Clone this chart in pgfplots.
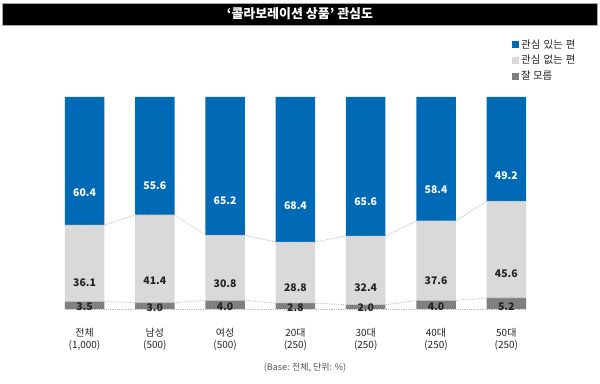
\documentclass[border=0pt]{standalone}
\usepackage{pgfplots}
\pgfplotsset{compat=1.18}
\usepackage{pgfplotstable}
\usepackage{fontspec}
\setmainfont{Noto Sans CJK KR}
\definecolor{cblue}{RGB}{0,106,183}
\definecolor{clight}{RGB}{217,217,217}
\definecolor{cdark}{RGB}{128,128,128}
\definecolor{ctext}{RGB}{35,35,35}
\definecolor{cline}{RGB}{185,185,185}

\pgfplotstableread{
x dk ng pos
0 3.5 36.1 60.4
1 3.0 41.4 55.6
2 4.0 30.8 65.2
3 2.8 28.8 68.4
4 2.0 32.4 65.6
5 4.0 37.6 58.4
6 5.2 45.6 49.2
}\datatable

\pgfplotsset{
  seglabel/.style={
    nodes near coords={\pgfmathprintnumber[fixed,fixed zerofill,precision=1,assume math mode=true]{\pgfplotspointmeta}},
    point meta=\thisrow{#1},
    visualization depends on={\thisrow{#1} \as \rawy},
    every node near coord/.append style={anchor=center, yshift={-\rawy*0.53bp}, font=\fontsize{10.5}{12}\selectfont\bfseries},
  },
}

\begin{document}
\begin{tikzpicture}
\path[use as bounding box] (0,0) rectangle (600bp,384bp);
% title bar
\filldraw[fill=black, draw=gray!70, line width=0.8bp] (2bp,359bp) rectangle (597bp,381bp);
\node[text=white, font=\fontsize{13}{15}\selectfont\bfseries] at (300bp,370bp) {‘콜라보레이션 상품’ 관심도};
% footnote
\node[text=ctext!80, font=\fontsize{9}{11}\selectfont] at (305bp,16bp) {(Base: 전체, 단위: \%)};

\begin{axis}[
  at={(31.8bp,75bp)}, anchor=south west,
  scale only axis, width=527.25bp, height=212bp,
  xmin=-0.75, xmax=6.75, ymin=0, ymax=100,
  ybar stacked, bar width=39.5bp,
  axis line style={draw=none},
  ytick=\empty,
  xtick={0,...,6},
  xticklabels={{전체\\(1,000)},{남성\\(500)},{여성\\(500)},{20대\\(250)},{30대\\(250)},{40대\\(250)},{50대\\(250)}},
  xticklabel style={align=center, font=\fontsize{10}{11.5}\selectfont, text=ctext, yshift=-16bp},
  major tick length=0pt,
  clip=false,
  reverse legend,
  legend style={at={(0.905,1.29)}, anchor=north west, draw=none, fill=none,
    font=\fontsize{10.5}{16}\selectfont, text=ctext, cells={anchor=west}, row sep=1.5bp,
    /tikz/every even column/.append style={column sep=2bp}},
  legend image code/.code={\fill[#1] (0bp,-3.5bp) rectangle (7bp,3.5bp);},
]
% connectors (drawn first, under the bars)
\addplot[stack plots=false, sharp plot, cline, densely dotted, line width=0.8bp, forget plot, mark=none]
  coordinates {(-0.28,0) (6.28,0)};
\addplot[stack plots=false, sharp plot, cline, densely dotted, line width=0.8bp, forget plot, mark=none]
  coordinates {(-0.28,3.5) (0.28,3.5) (0.72,3.0) (1.28,3.0) (1.72,4.0) (2.28,4.0) (2.72,2.8) (3.28,2.8) (3.72,2.0) (4.28,2.0) (4.72,4.0) (5.28,4.0) (5.72,5.2) (6.28,5.2)};
\addplot[stack plots=false, sharp plot, cline, densely dotted, line width=0.8bp, forget plot, mark=none]
  coordinates {(-0.28,39.6) (0.28,39.6) (0.72,44.4) (1.28,44.4) (1.72,34.8) (2.28,34.8) (2.72,31.6) (3.28,31.6) (3.72,34.4) (4.28,34.4) (4.72,41.6) (5.28,41.6) (5.72,50.8) (6.28,50.8)};

\addplot[fill=cdark, draw=none, seglabel=dk, every node near coord/.append style={text=ctext}]
  table[x=x, y=dk] {\datatable};
\addlegendentry{잘 모름}
\addplot[fill=clight, draw=none, seglabel=ng, every node near coord/.append style={text=ctext}]
  table[x=x, y=ng] {\datatable};
\addlegendentry{관심\hspace{0.3em}없는\hspace{0.3em}편}
\addplot[fill=cblue, draw=none, seglabel=pos, every node near coord/.append style={text=white}]
  table[x=x, y=pos] {\datatable};
\addlegendentry{관심\hspace{0.3em}있는\hspace{0.3em}편}
\end{axis}
\end{tikzpicture}
\end{document}
